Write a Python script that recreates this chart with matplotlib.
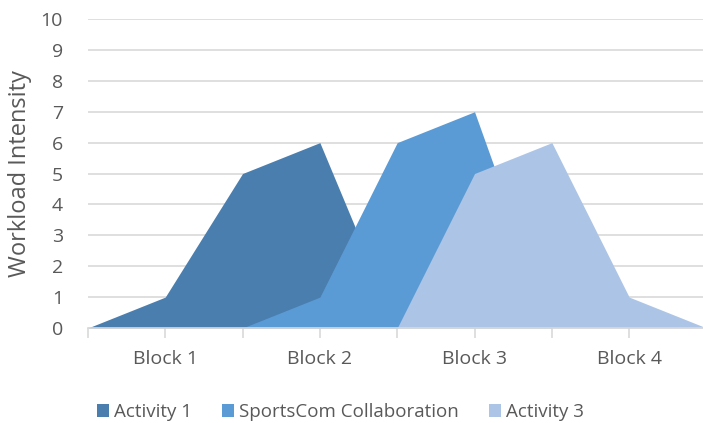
import matplotlib.pyplot as plt
from matplotlib.patches import Patch

# category positions (half-block steps); labels only on block centres
positions = list(range(9))
tick_labels = ['', 'Block 1', '', 'Block 2', '', 'Block 3', '', 'Block 4', '']

series_names = ['Activity 1', 'SportsCom Collaboration', 'Activity 3']
activity1 = [0, 1, 5, 6, 0, 0, 0, 0, 0]
sportscom = [0, 0, 0, 1, 6, 7, 0, 0, 0]
activity3 = [0, 0, 0, 0, 0, 5, 6, 1, 0]
series_colors = ['#4A7EAE', '#5B9BD5', '#ACC5E6']

plt.rcParams['font.family'] = ['Open Sans', 'DejaVu Sans']
text_color = '#595959'

fig = plt.figure(figsize=(7.03, 4.23), dpi=100)
ax = fig.add_axes([0.125, 0.2246, 0.88, 0.7304])

for vals, color in zip([activity1, sportscom, activity3], series_colors):
    ax.fill_between(positions, 0, vals, color=color, linewidth=0, zorder=2)

ax.set_xlim(0, 8)
ax.set_ylim(0, 10)
ax.set_yticks(range(0, 11))
ax.yaxis.grid(True, color='#D9D9D9', linewidth=1.2, zorder=0)
ax.set_axisbelow(True)

ax.set_xticks(positions)
ax.set_xticklabels(tick_labels)
ax.tick_params(axis='x', length=7, width=1.2, color='#D9D9D9', labelsize=14,
               labelcolor=text_color, pad=9)
ax.tick_params(axis='y', length=0, labelsize=14, labelcolor=text_color, pad=18)

for side in ['top', 'right', 'left']:
    ax.spines[side].set_visible(False)
ax.spines['bottom'].set_color('#D9D9D9')
ax.spines['bottom'].set_linewidth(1.2)
ax.spines['bottom'].set_zorder(3)

ax.set_ylabel('Workload Intensity', fontsize=17, color=text_color, labelpad=6)

handles = [Patch(facecolor=c, edgecolor='none') for c in series_colors]
fig.legend(handles, series_names, loc='center', bbox_to_anchor=(0.484, 0.026),
           ncol=3, frameon=False, fontsize=13.5, labelcolor=text_color,
           handlelength=0.65, handleheight=0.65, handletextpad=0.27,
           columnspacing=1.6, borderpad=0)

fig.savefig('out.png', dpi=100)
